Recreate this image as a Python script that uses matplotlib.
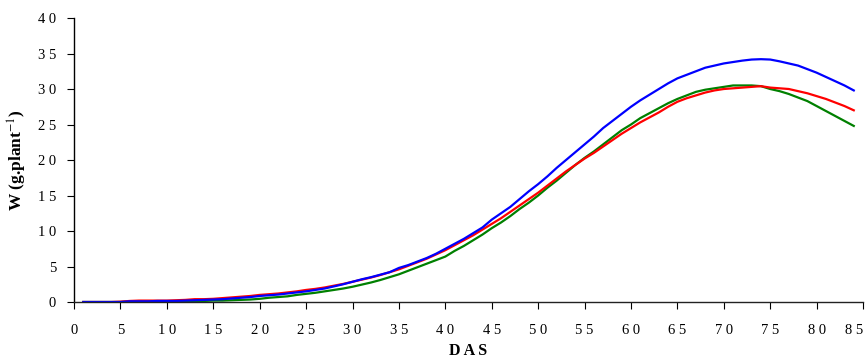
import numpy as np
import matplotlib.pyplot as plt

plt.rcParams['font.family'] = ['Liberation Serif', 'DejaVu Serif']
plt.rcParams['mathtext.fontset'] = 'stix'

# days after sowing
das = np.arange(1, 85)

# plant dry weight W (g.plant-1)
w_blue = [
    0.0, 0.0, 0.0, 0.0, 0.0,
    0.1, 0.1, 0.1, 0.15, 0.15,
    0.15, 0.2, 0.25, 0.3, 0.35,
    0.4, 0.5, 0.6, 0.7, 0.85,
    0.95, 1.05, 1.2, 1.35, 1.5,
    1.7, 1.9, 2.2, 2.5, 2.85,
    3.2, 3.5, 3.85, 4.2, 4.8,
    5.2, 5.7, 6.2, 6.8, 7.5,
    8.2, 8.9, 9.7, 10.5, 11.6,
    12.5, 13.4, 14.5, 15.6, 16.6,
    17.7, 18.9, 20.0, 21.1, 22.2,
    23.3, 24.5, 25.5, 26.5, 27.5,
    28.4, 29.2, 30.0, 30.8, 31.5,
    32.0, 32.5, 33.0, 33.3, 33.6,
    33.8, 34.0, 34.15, 34.2, 34.15,
    33.9, 33.6, 33.3, 32.8, 32.3,
    31.7, 31.1, 30.5, 29.8,
]
w_red = [
    0.0, 0.0, 0.0, 0.0, 0.05,
    0.15, 0.2, 0.2, 0.2, 0.2,
    0.25, 0.3, 0.4, 0.4, 0.45,
    0.55, 0.65, 0.75, 0.85, 1.0,
    1.1, 1.2, 1.35, 1.5, 1.7,
    1.85, 2.05, 2.3, 2.55, 2.85,
    3.15, 3.45, 3.8, 4.2, 4.6,
    5.1, 5.6, 6.1, 6.7, 7.3,
    8.0, 8.7, 9.4, 10.2, 11.0,
    11.8, 12.7, 13.6, 14.5, 15.4,
    16.4, 17.4, 18.4, 19.3, 20.2,
    21.0, 21.9, 22.8, 23.7, 24.5,
    25.3, 26.0, 26.7, 27.5, 28.2,
    28.7, 29.1, 29.5, 29.8, 30.0,
    30.1, 30.2, 30.3, 30.4, 30.2,
    30.1, 30.0, 29.7, 29.4, 29.0,
    28.6, 28.1, 27.6, 27.0,
]
w_green = [
    0.0, 0.0, 0.0, 0.0, 0.0,
    0.05, 0.05, 0.05, 0.1, 0.1,
    0.1, 0.1, 0.15, 0.15, 0.2,
    0.2, 0.25, 0.3, 0.35, 0.45,
    0.6, 0.7, 0.8, 1.0, 1.15,
    1.3, 1.5, 1.7, 1.9, 2.15,
    2.45, 2.75, 3.1, 3.5, 3.9,
    4.4, 4.9, 5.4, 5.9, 6.4,
    7.2, 7.9, 8.7, 9.5, 10.4,
    11.2, 12.1, 13.1, 14.0, 15.0,
    16.1, 17.1, 18.2, 19.3, 20.3,
    21.2, 22.2, 23.2, 24.2, 25.0,
    25.9, 26.6, 27.3, 28.0, 28.6,
    29.1, 29.6, 29.9, 30.1, 30.3,
    30.5, 30.5, 30.5, 30.4, 30.0,
    29.7, 29.3, 28.8, 28.3, 27.6,
    26.9, 26.2, 25.5, 24.8,
]

x_ticks = list(range(0, 90, 5))
y_ticks = list(range(0, 45, 5))


def spaced(v):
    # the original labels have a gap between digits
    return " ".join(str(v))


fig = plt.figure(figsize=(8.68, 3.58), dpi=100)
ax = fig.add_axes([0.0853, 0.1564, 0.909, 0.7933])

ax.plot(das, w_green, color="#008000", lw=1.6)
ax.plot(das, w_red, color="#ff0000", lw=1.6)
ax.plot(das, w_blue, color="#0000ff", lw=1.6)

ax.set_xlim(0, 85)
ax.set_ylim(0, 40)
ax.set_xticks(x_ticks)
ax.set_xticklabels([spaced(v) for v in x_ticks], fontsize=10.5)
ax.set_yticks(y_ticks)
ax.set_yticklabels([spaced(v) for v in y_ticks], fontsize=10.5)
ax.tick_params(direction="out", length=5, width=0.8, colors="black")
ax.tick_params(axis="x", pad=11)
ax.tick_params(axis="y", pad=8)
# last label sits flush with the end of the axis, as in the original
ax.get_xticklabels()[-1].set_horizontalalignment("right")

ax.spines["top"].set_visible(False)
ax.spines["right"].set_visible(False)
ax.spines["left"].set_linewidth(1)
ax.spines["bottom"].set_linewidth(1)
ax.spines["bottom"].set_color("#222222")

ax.set_xlabel("D A S", fontsize=11.5, fontweight="bold", labelpad=4)
ax.set_ylabel("W (g.plant$^{-1}$)", fontsize=12.5, fontweight="bold", labelpad=6)

fig.savefig("out.png", dpi=100)
